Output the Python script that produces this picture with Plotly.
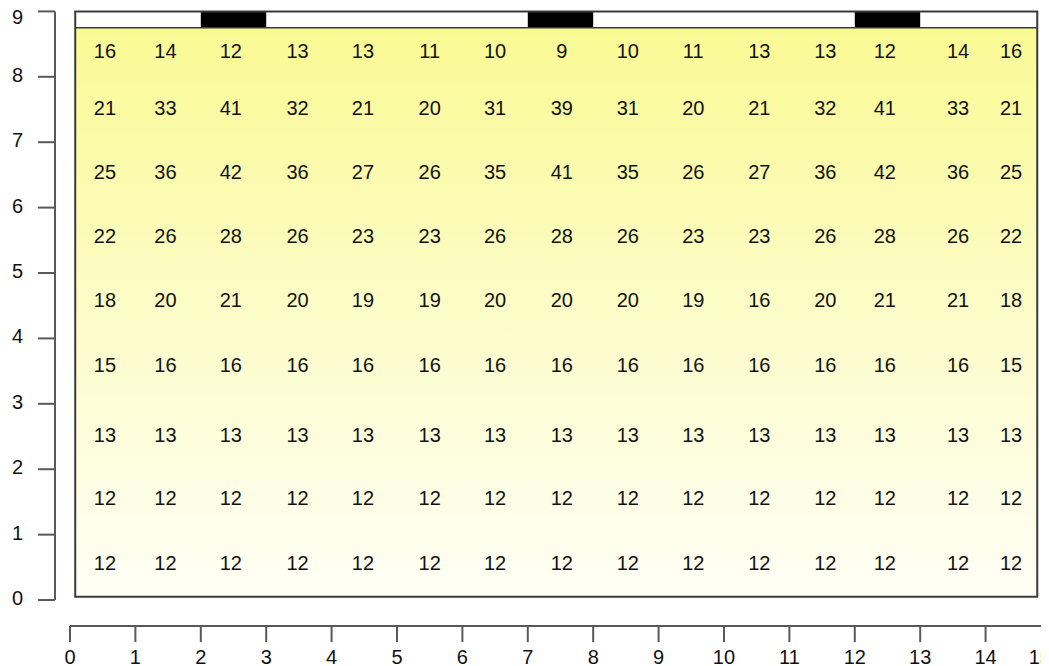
import plotly.graph_objects as go

# ---------------- data ----------------
col_x = [0.535, 1.46, 2.46, 3.48, 4.48, 5.50, 6.50, 7.52, 8.53, 9.53, 10.54, 11.55, 12.46, 13.58, 14.39]
row_y = [0.535, 1.53, 2.50, 3.56, 4.56, 5.54, 6.51, 7.49, 8.36]

row0 = [12, 12, 12, 12, 12, 12, 12, 12, 12, 12, 12, 12, 12, 12, 12]
row1 = [12, 12, 12, 12, 12, 12, 12, 12, 12, 12, 12, 12, 12, 12, 12]
row2 = [13, 13, 13, 13, 13, 13, 13, 13, 13, 13, 13, 13, 13, 13, 13]
row3 = [15, 16, 16, 16, 16, 16, 16, 16, 16, 16, 16, 16, 16, 16, 15]
row4 = [18, 20, 21, 20, 19, 19, 20, 20, 20, 19, 16, 20, 21, 21, 18]
row5 = [22, 26, 28, 26, 23, 23, 26, 28, 26, 23, 23, 26, 28, 26, 22]
row6 = [25, 36, 42, 36, 27, 26, 35, 41, 35, 26, 27, 36, 42, 36, 25]
row7 = [21, 33, 41, 32, 21, 20, 31, 39, 31, 20, 21, 32, 41, 33, 21]
row8 = [16, 14, 12, 13, 13, 11, 10, 9, 10, 11, 13, 13, 12, 14, 16]
rows = [row0, row1, row2, row3, row4, row5, row6, row7, row8]

x_tick_vals = [0, 1, 2, 3, 4, 5, 6, 7, 8, 9, 10, 11, 12, 13, 14, 14.87]
x_label_pos = [0, 1, 2, 3, 4, 5, 6, 7, 8, 9, 10, 11, 12, 13, 14, 14.83]
x_tick_text = ["0", "1", "2", "3", "4", "5", "6", "7", "8", "9", "10", "11", "12", "13", "14", "15"]
y_tick_vals = [0, 1, 2, 3, 4, 5, 6, 7, 8, 9]
y_label_pos = [0, 1, 2, 3, 4, 5, 6, 7, 8, 8.88]
y_tick_text = ["0", "1", "2", "3", "4", "5", "6", "7", "8", "9"]

black_segments = [(2, 3), (7, 8), (12, 13)]

# box extents
box_x0, box_x1 = 0.08, 14.79
box_y0, box_y1 = 0.05, 9.0
strip_y0 = 8.75

FONT = "Liberation Sans, Arial, sans-serif"
FS = 20
AXIS_COL = "#595959"
BOX_COL = "#3a3a3a"

fig = go.Figure()

# gradient background
fig.add_trace(go.Scatter(
    x=[box_x0, box_x1, box_x1, box_x0, box_x0],
    y=[box_y0, box_y0, strip_y0, strip_y0, box_y0],
    mode="lines", line=dict(width=0), fill="toself",
    fillgradient=dict(type="vertical",
                      colorscale=[[0, "rgb(255,255,246)"], [0.5, "rgb(252,252,200)"], [1, "rgb(250,250,148)"]]),
    hoverinfo="skip", showlegend=False))

# cell texts
tx, ty, tt = [], [], []
for yy, r in zip(row_y, rows):
    for xx, v in zip(col_x, r):
        tx.append(xx); ty.append(yy); tt.append(str(v))
fig.add_trace(go.Scatter(x=tx, y=ty, text=tt, mode="text",
                         textfont=dict(family=FONT, size=FS, color="#111111"),
                         hoverinfo="skip", showlegend=False))

shapes = []
# strip
shapes.append(dict(type="rect", x0=box_x0, x1=box_x1, y0=strip_y0, y1=box_y1,
                   fillcolor="white", line=dict(width=0), layer="below"))
for a, b in black_segments:
    shapes.append(dict(type="rect", x0=a, x1=b, y0=strip_y0, y1=box_y1,
                       fillcolor="black", line=dict(width=0)))
shapes.append(dict(type="line", x0=box_x0, x1=box_x1, y0=strip_y0, y1=strip_y0,
                   line=dict(color=BOX_COL, width=1.5)))
# outer box
shapes.append(dict(type="rect", x0=box_x0, x1=box_x1, y0=box_y0, y1=box_y1,
                   line=dict(color=BOX_COL, width=2), fillcolor="rgba(0,0,0,0)"))

# y axis (R style, offset)
yax_x = -0.229
ytick_len = 0.26
shapes.append(dict(type="line", x0=yax_x, x1=yax_x, y0=y_tick_vals[0], y1=y_tick_vals[-1],
                   line=dict(color=AXIS_COL, width=2)))
for v in y_tick_vals:
    shapes.append(dict(type="line", x0=yax_x - ytick_len, x1=yax_x, y0=v, y1=v,
                       line=dict(color=AXIS_COL, width=2)))
# x axis
xax_y = -0.398
xtick_len = 0.245
shapes.append(dict(type="line", x0=x_tick_vals[0], x1=x_tick_vals[-1], y0=xax_y, y1=xax_y,
                   line=dict(color=AXIS_COL, width=2)))
for v in x_tick_vals:
    shapes.append(dict(type="line", x0=v, x1=v, y0=xax_y, y1=xax_y - xtick_len,
                       line=dict(color=AXIS_COL, width=2)))

# tick labels
fig.add_trace(go.Scatter(x=[-0.80] * len(y_tick_vals), y=y_label_pos, text=y_tick_text,
                         mode="text", textfont=dict(family=FONT, size=FS, color="#111111"),
                         hoverinfo="skip", showlegend=False, cliponaxis=False))
fig.add_trace(go.Scatter(x=x_label_pos, y=[-0.90] * len(x_label_pos), text=x_tick_text,
                         mode="text", textfont=dict(family=FONT, size=FS, color="#111111"),
                         hoverinfo="skip", showlegend=False, cliponaxis=False))

# page has an 8px body margin: shift ranges so the page pixels match
fig.update_layout(
    width=1049, height=666,
    margin=dict(l=0, r=0, t=0, b=0),
    paper_bgcolor="white", plot_bgcolor="white",
    shapes=shapes,
    xaxis=dict(range=[-0.948, 15.092], visible=False, fixedrange=True),
    yaxis=dict(range=[-1.131, 9.052], visible=False, fixedrange=True),
    showlegend=False,
)

fig.write_html("out.html")
